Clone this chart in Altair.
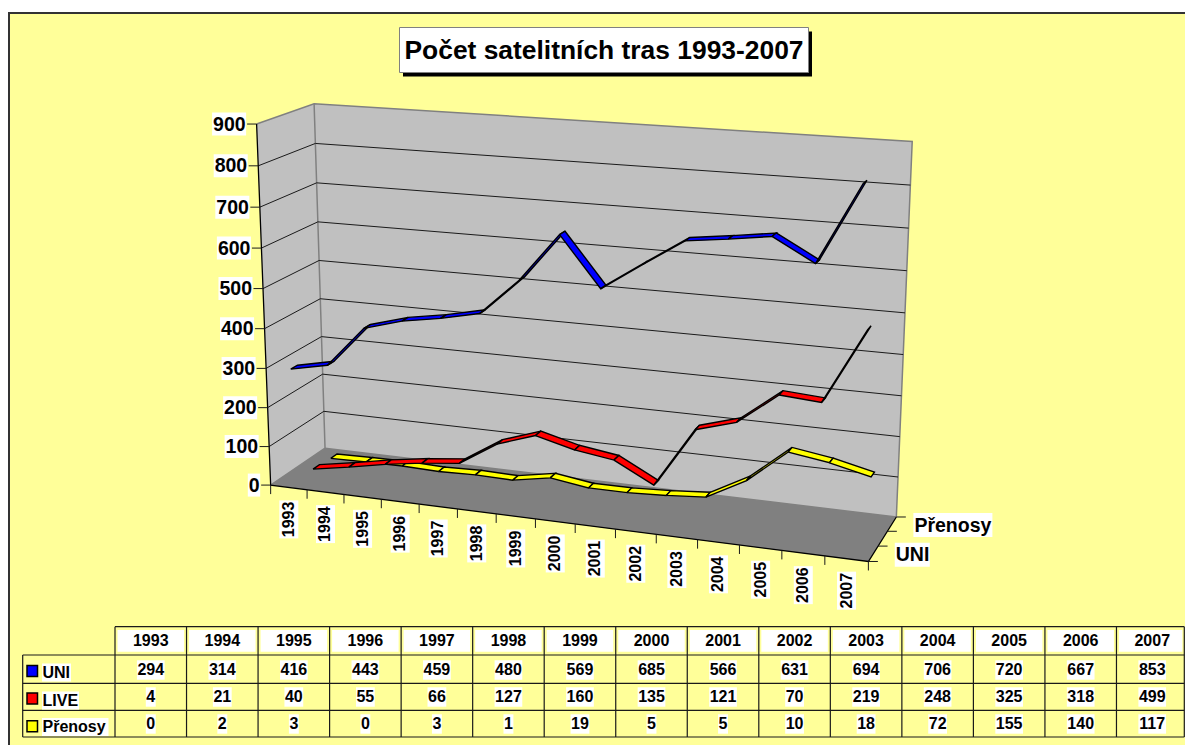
import numpy as np
import pandas as pd
import altair as alt

years = [1993,1994,1995,1996,1997,1998,1999,2000,2001,2002,2003,2004,2005,2006,2007]
uni = [294,314,416,443,459,480,569,685,566,631,694,706,720,667,853]
live = [4,21,40,55,66,127,160,135,121,70,219,248,325,318,499]
prenosy = [0,2,3,0,3,1,19,5,5,10,18,72,155,140,117]
series_names = ["UNI", "LIVE", "Přenosy"]
series_values = [uni, live, prenosy]
series_colors = ["#0000FF", "#FF0000", "#FFFF00"]
value_ticks = [0,100,200,300,400,500,600,700,800,900]
title_text = "Počet satelitních tras 1993-2007"

FONT = "Liberation Sans"
YELLOW = "#FFFF99"
W, H = 1185, 745
CW = 1177

# perspective box calibration: (u, v, w) -> picture position
corners = [((0,0,0),(270.7,485)),((1,0,0),(868,561.7)),((1,0,1),(896.7,516.7)),((0,0,1),(325,448.3)),
           ((0,1,0),(256.7,123.3)),((0,1,1),(314,104.3)),((1,1,1),(912,141)),((1,1,0),(884,167))]
A, b = [], []
for (u,v,w),(X,Y) in corners:
    A.append([u,v,w,1,0,0,0,0,-X*u,-X*v,-X*w]); b.append(X)
    A.append([0,0,0,0,u,v,w,1,-Y*u,-Y*v,-Y*w]); b.append(Y)
p = np.linalg.lstsq(np.array(A,float), np.array(b,float), rcond=None)[0]
P = np.append(p,1.0).reshape(3,4)
def proj(u,v,w):
    h = P @ np.array([u,v,w,1.0])
    return float(h[0]/h[2]), float(h[1]/h[2])

X_ = alt.X("x:Q", scale=alt.Scale(domain=[8,8+CW], range=[0,CW]), axis=None)
Y_ = alt.Y("y:Q", scale=alt.Scale(domain=[8,H], range=[0,H-8]), axis=None)
X2_ = alt.X2("x2:Q")
Y2_ = alt.Y2("y2:Q")

def polys(items, fill=None, stroke=None, sw=1.0):
    rows = []
    for k, pts in enumerate(items):
        for j,(x,y) in enumerate(pts):
            rows.append({"poly":k,"ord":j,"x":x,"y":y})
    kw = dict(strokeWidth=sw, interpolate="linear", clip=False)
    if fill: kw["fill"] = fill
    kw["stroke"] = stroke if stroke else fill
    if not stroke and fill: kw["strokeWidth"] = 0
    return alt.Chart(pd.DataFrame(rows)).mark_line(**kw).encode(x=X_, y=Y_, detail="poly:N", order="ord:Q")

def closed(pts):
    return list(pts)+[pts[0]]

def rects(rows, color, **kw):
    return alt.Chart(pd.DataFrame(rows, columns=["x","x2","y","y2"])).mark_rect(color=color, **kw).encode(x=X_, x2=X2_, y=Y_, y2=Y2_)

def texts(rows, size, align="center", angle=0):
    kw = {}
    if angle: kw["angle"] = angle
    return alt.Chart(pd.DataFrame(rows, columns=["x","y","t"])).mark_text(font=FONT, fontWeight="bold", fontSize=size,
        align=align, baseline="middle", color="#000000", **kw).encode(x=X_, y=Y_, text="t:N")

layers = []
# background
layers.append(rects([[9,W,13,H]], YELLOW))
layers.append(polys([[(9,H),(9,13),(W,13)]], stroke="#333333", sw=2))

# walls and floor
layers.append(polys([closed([proj(0,0,0),proj(0,1,0),proj(0,1,1),proj(0,0,1)])], fill="#C0C0C0"))
layers.append(polys([closed([proj(0,0,1),proj(0,1,1),proj(1,1,1),proj(1,0,1)])], fill="#C0C0C0"))
layers.append(polys([closed([proj(0,0,0),proj(1,0,0),proj(1,0,1),proj(0,0,1)])], fill="#808080"))
layers.append(polys([[proj(0,1,0),proj(0,1,1),proj(1,1,1),proj(1,0,1)], [proj(0,1,1),proj(0,0,1),proj(0,0,0)], [proj(0,0,1),proj(1,0,1)]], stroke="#808080", sw=1.5))
# gridlines
grid = [[proj(0,t/900,0),proj(0,t/900,1),proj(1,t/900,1)] for t in value_ticks[1:-1]]
layers.append(polys(grid, stroke="#1a1a1a", sw=1))

# ribbons, back series first
half = 0.06
for idx in [2,1,0]:
    vals = series_values[idx]
    wc = (idx+0.5)/3
    quads = []
    for i in range(len(vals)-1):
        u0,u1 = (i+0.5)/15,(i+1.5)/15
        v0,v1 = vals[i]/900, vals[i+1]/900
        quads.append(closed([proj(u0,v0,wc-half),proj(u1,v1,wc-half),proj(u1,v1,wc+half),proj(u0,v0,wc+half)]))
    layers.append(polys(quads, fill=series_colors[idx], stroke="#000000", sw=1.4))

# axis lines
layers.append(polys([[proj(0,1,0),proj(0,0,0),proj(1,0,0),proj(1,0,1)]], stroke="#000000", sw=1.3))
# ticks
ticks = []
for t in value_ticks:
    x,y = proj(0,t/900,0); ticks.append([(x-9.5,y),(x,y)])
for i in range(16):
    x,y = proj(i/15,0,0); ticks.append([(x,y),(x,y+9)])
for k in range(4):
    x,y = proj(1,0,k/3); ticks.append([(x,y),(x+9.5,y)])
layers.append(polys(ticks, stroke="#1a1a1a", sw=1))

# axis labels
DIG = 0.556
bx, tx = [], []
for t in value_ticks:
    x,y = proj(0,t/900,0)
    s = str(t); w_ = len(s)*DIG*19.5+1
    r = x-11
    bx.append([r-w_,r+0.5,y-11.5,y+11.5]); tx.append([r,y+0.5,s])
layers.append(rects(bx,"#FFFFFF"))
layers.append(texts(tx,19.5,align="right"))

bx, tx = [], []
for i,yr in enumerate(years):
    x,y = proj((i+0.5)/15,0,0)
    yc = y+32
    bx.append([x-9.5,x+9.5,yc-19,yc+19]); tx.append([x,yc,str(yr)])
layers.append(rects(bx,"#FFFFFF"))
layers.append(texts(tx,16,angle=270))

depth_labels = [("UNI",1/6,35),("Přenosy",5/6,79)]
bx, tx = [], []
for s,w_,wd in depth_labels:
    x,y = proj(1,0,w_)
    l = x+21.5
    y += 1
    bx.append([l,l+wd,y-12,y+12]); tx.append([l+1,y+0.5,s])
layers.append(rects(bx,"#FFFFFF"))
layers.append(texts(tx,19.5,align="left"))

# title
layers.append(rects([[403,812,31.5,76.5]],"#000000"))
layers.append(rects([[399.5,808.5,27.5,72.5]],"#FFFFFF",stroke="#808080",strokeWidth=1))
layers.append(texts([[604,50.5,title_text]],26.4))

# data table
x0,xl = 115,22.7
cw = (1188-x0)/15
xr = 1184.3
ys = [626.7,655,683.3,710.3,737]
lines = []
for j,y in enumerate(ys):
    lines.append([(x0 if j==0 else xl,y),(xr,y)])
for i in range(15):
    lines.append([(x0+i*cw,ys[0]),(x0+i*cw,ys[-1])])
lines.append([(xr,ys[0]),(xr,ys[-1])])
lines.append([(xl,ys[1]),(xl,ys[-1])])
layers.append(polys(lines, stroke="#1a1a1a", sw=1.2))

bx = [[x0+i*cw+2.5,min(x0+(i+1)*cw-2.5,xr-2),630,651.7] for i in range(15)]
tx = [[x0+(i+.5)*cw,641,str(yr)] for i,yr in enumerate(years)]
row_y = [670,697,724]
for r,vals in enumerate(series_values):
    for i,v in enumerate(vals):
        s=str(v); w_=len(s)*DIG*16+1
        xc=x0+(i+.5)*cw
        bx.append([xc-w_/2,xc+w_/2,row_y[r]-9.7,row_y[r]+9.7])
        tx.append([xc,row_y[r],s])
layers.append(rects(bx,"#FFFFFF"))
layers.append(texts(tx,16))

name_y = [672.5,700.5,727]
name_w = [29,37,66.5]
layers.append(rects([[42,42+name_w[r],name_y[r]-9,name_y[r]+9] for r in range(3)],"#FFFFFF"))
layers.append(texts([[42.5,name_y[r],series_names[r]] for r in range(3)],16,align="left"))
key_y = [671,698.5,726.3]
for r in range(3):
    layers.append(rects([[27,37.5,key_y[r]-5.5,key_y[r]+5.5]],series_colors[r],stroke="#000000",strokeWidth=1.5))

chart = alt.layer(*layers).properties(width=CW,height=H-8,padding=0,background="#FFFFFF",
        autosize=alt.AutoSizeParams(type="none")).configure_view(stroke=None)
chart.save("out.html", embed_options={"renderer":"svg","actions":False})
